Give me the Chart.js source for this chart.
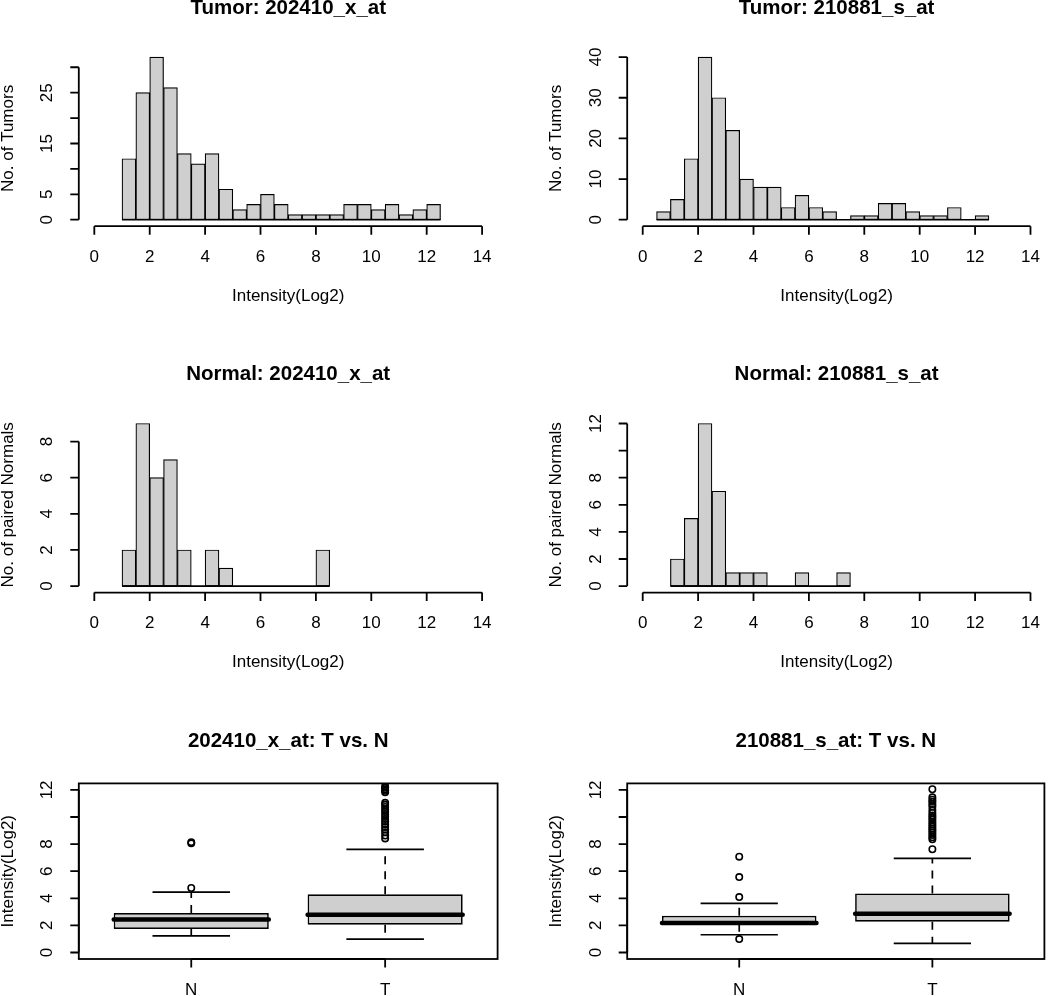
<!DOCTYPE html>
<html>
<head>
<meta charset="utf-8">
<title>202410_x_at / 210881_s_at: Tumor vs. Normal</title>
<script src="https://cdn.jsdelivr.net/npm/chart.js@4.4.1/dist/chart.umd.min.js"></script>
<style>
  html, body { margin: 0; padding: 0; background: #fff; }
  #page { position: relative; width: 1050px; height: 996px; overflow: hidden; }
  #page canvas { position: absolute; }
</style>
</head>
<body>
<div id="page"></div>
<script>
// ---- data ----
const BIN_WIDTH = 0.5;

const tumor202410Bins = [1, 1.5, 2, 2.5, 3, 3.5, 4, 4.5, 5, 5.5, 6, 6.5, 7, 7.5, 8, 8.5, 9, 9.5, 10, 10.5, 11, 11.5, 12];
const tumor202410Counts = [12, 25, 32, 26, 13, 11, 13, 6, 2, 3, 5, 3, 1, 1, 1, 1, 3, 3, 2, 3, 1, 2, 3];

const tumor210881Bins = [0.5, 1, 1.5, 2, 2.5, 3, 3.5, 4, 4.5, 5, 5.5, 6, 6.5, 7, 7.5, 8, 8.5, 9, 9.5, 10, 10.5, 11, 11.5, 12];
const tumor210881Counts = [2, 5, 15, 40, 30, 22, 10, 8, 8, 3, 6, 3, 2, 0, 1, 1, 4, 4, 2, 1, 1, 3, 0, 1];

const normal202410Bins = [1, 1.5, 2, 2.5, 3, 3.5, 4, 4.5, 5, 5.5, 6, 6.5, 7, 7.5, 8];
const normal202410Counts = [2, 9, 6, 7, 2, 0, 2, 1, 0, 0, 0, 0, 0, 0, 2];

const normal210881Bins = [1, 1.5, 2, 2.5, 3, 3.5, 4, 4.5, 5, 5.5, 6, 6.5, 7];
const normal210881Counts = [2, 5, 12, 7, 1, 1, 1, 0, 0, 1, 0, 0, 1];

const histXTicks = [0, 2, 4, 6, 8, 10, 12, 14];
const histXLabels = ['0', '2', '4', '6', '8', '10', '12', '14'];

const tumor202410YTicks = [0, 5, 10, 15, 20, 25, 30];
const tumor202410YLabels = ['0', '5', '', '15', '', '25', ''];
const tumor210881YTicks = [0, 10, 20, 30, 40];
const tumor210881YLabels = ['0', '10', '20', '30', '40'];
const normal202410YTicks = [0, 2, 4, 6, 8];
const normal202410YLabels = ['0', '2', '4', '6', '8'];
const normal210881YTicks = [0, 2, 4, 6, 8, 10, 12];
const normal210881YLabels = ['0', '2', '4', '6', '8', '', '12'];

// box plots: groups N, T
const boxGroups = ['N', 'T'];
const boxYTicks = [0, 2, 4, 6, 8, 10, 12];
const boxYLabels = ['0', '2', '4', '6', '8', '', '12'];

const box202410Low = [1.23, 0.99];
const box202410Q1 = [1.73, 2.05];
const box202410Median = [2.44, 2.79];
const box202410Q3 = [2.91, 4.29];
const box202410High = [4.46, 7.61];
const box202410OutN = [4.76, 8.06, 8.14];
const box202410OutT = [8.42, 8.63, 8.87, 9.08, 9.26, 9.47, 9.66, 9.85, 10.02, 10.21, 10.38, 10.55,
  10.74, 10.9, 11.05, 11.82, 11.93, 12.04, 12.15, 12.27];

const box210881Low = [1.31, 0.67];
const box210881Q1 = [2.12, 2.27];
const box210881Median = [2.17, 2.86];
const box210881Q3 = [2.71, 4.36];
const box210881High = [3.62, 6.95];
const box210881OutN = [0.99, 4.09, 5.57, 7.07];
const box210881OutT = [7.62, 8.35, 8.5, 8.68, 8.84, 9.0, 9.14, 9.3, 9.45, 9.62, 9.8, 9.96, 10.12,
  10.3, 10.52, 10.78, 10.95, 11.12, 11.28, 11.45, 12.05];

// ---- styling / layout ----
const INK = '#000';
const GREY = '#cfcfcf';
const FONT = '"Liberation Sans", Arial, Helvetica, sans-serif';
const LABEL_FONT = '17px ' + FONT;
const TITLE_FONT = 'bold 20.5px ' + FONT;
const TICK_LEN = 8.5;
const AXIS_LW = 1.8;

const COLS = [
  { left: 0, plotL: 78.8, plotR: 497.6 },
  { left: 525, plotL: 627.2, plotR: 1046 }
];
const ROWS = [
  { top: 0, h: 320, plotT: 50.6, plotB: 226.2 },
  { top: 320, h: 360, plotT: 417.0, plotB: 592.6 },
  { top: 680, h: 316, plotT: 783.4, plotB: 959.0 }
];

// R-like axes: lines span the tick range, ticks point outward
const rStyleAxes = {
  id: 'rStyleAxes',
  afterDraw(chart, _args, o) {
    const { ctx, chartArea: a } = chart;
    const xs = chart.scales.x, ys = chart.scales.y;
    ctx.save();
    ctx.strokeStyle = INK;
    ctx.fillStyle = INK;
    ctx.lineWidth = AXIS_LW;
    if (o.frame) ctx.strokeRect(a.left, a.top, a.right - a.left, a.bottom - a.top);

    ctx.beginPath();
    const xFirst = xs.getPixelForValue(o.xTicks[0]);
    const xLast = xs.getPixelForValue(o.xTicks[o.xTicks.length - 1]);
    ctx.moveTo(xFirst, a.bottom);
    ctx.lineTo(xLast, a.bottom);
    o.xTicks.forEach(v => {
      const p = xs.getPixelForValue(v);
      ctx.moveTo(p, a.bottom);
      ctx.lineTo(p, a.bottom + TICK_LEN);
    });
    const yFirst = ys.getPixelForValue(o.yTicks[0]);
    const yLast = ys.getPixelForValue(o.yTicks[o.yTicks.length - 1]);
    ctx.moveTo(a.left, yFirst);
    ctx.lineTo(a.left, yLast);
    o.yTicks.forEach(v => {
      const p = ys.getPixelForValue(v);
      ctx.moveTo(a.left, p);
      ctx.lineTo(a.left - TICK_LEN, p);
    });
    ctx.stroke();

    ctx.font = LABEL_FONT;
    ctx.textAlign = 'center';
    ctx.textBaseline = 'middle';
    o.xTicks.forEach((v, i) => {
      ctx.fillText(o.xLabels[i], xs.getPixelForValue(v), a.bottom + 31);
    });
    o.yTicks.forEach((v, i) => {
      if (!o.yLabels[i]) return;
      ctx.save();
      ctx.translate(a.left - 31, ys.getPixelForValue(v));
      ctx.rotate(-Math.PI / 2);
      ctx.fillText(o.yLabels[i], 0, 0);
      ctx.restore();
    });
    if (o.xTitle) ctx.fillText(o.xTitle, (a.left + a.right) / 2, a.bottom + 70);
    if (o.yTitle) {
      ctx.save();
      ctx.translate(a.left - 70.5, (a.top + a.bottom) / 2);
      ctx.rotate(-Math.PI / 2);
      ctx.fillText(o.yTitle, 0, 0);
      ctx.restore();
    }
    ctx.font = TITLE_FONT;
    ctx.fillText(o.title, (a.left + a.right) / 2, a.top - 42.5);
    ctx.restore();
  }
};

function makeCanvas(col, row) {
  const c = COLS[col], r = ROWS[row];
  const cv = document.createElement('canvas');
  cv.width = 525;
  cv.height = r.h;
  cv.style.left = c.left + 'px';
  cv.style.top = r.top + 'px';
  cv.style.width = '525px';
  cv.style.height = r.h + 'px';
  document.getElementById('page').appendChild(cv);
  const padding = {
    left: c.plotL - c.left,
    right: c.left + 525 - c.plotR,
    top: r.plotT - r.top,
    bottom: r.top + r.h - r.plotB
  };
  return { cv, padding };
}

// R extends axis ranges by 4% on each side
function extend(lo, hi) {
  const d = (hi - lo) * 0.04;
  return [lo - d, hi + d];
}

function drawChart(col, row, datasets, xlim, ylim, xTicks, axes) {
  const { cv, padding } = makeCanvas(col, row);
  const [xmin, xmax] = extend(xlim[0], xlim[1]);
  const [ymin, ymax] = extend(ylim[0], ylim[1]);
  return new Chart(cv, {
    type: 'bar',
    data: { datasets },
    options: {
      responsive: false,
      animation: false,
      devicePixelRatio: 1,
      layout: { padding },
      events: [],
      scales: {
        x: {
          type: 'linear', display: false, offset: false, bounds: 'data', min: xmin, max: xmax,
          afterBuildTicks: s => { s.ticks = xTicks.map(v => ({ value: v })); }
        },
        y: { type: 'linear', display: false, bounds: 'data', beginAtZero: false, min: ymin, max: ymax }
      },
      plugins: {
        legend: { display: false },
        tooltip: { enabled: false },
        title: { display: false },
        rStyleAxes: axes
      }
    },
    plugins: [rStyleAxes]
  });
}

function histogram(col, row, bins, counts, yTicks, yLabels, title, yTitle) {
  const last = bins[bins.length - 1] + BIN_WIDTH;
  const datasets = [
    {
      type: 'line',
      data: [{ x: bins[0], y: 0 }, { x: last, y: 0 }],
      borderColor: INK, borderWidth: 1.6, pointRadius: 0, order: 0
    },
    {
      type: 'bar',
      data: bins.map((b, i) => ({ x: b + BIN_WIDTH / 2, y: counts[i] })),
      backgroundColor: GREY, borderColor: INK, borderWidth: 1.2, borderSkipped: false,
      barPercentage: 1, categoryPercentage: 1, order: 1
    }
  ];
  drawChart(col, row, datasets, [0, 14], [0, Math.max(...counts)], histXTicks, {
    title, yTitle, xTitle: 'Intensity(Log2)',
    xTicks: histXTicks, xLabels: histXLabels, yTicks, yLabels, frame: false
  });
}

function boxplot(col, row, lo, q1, med, q3, hi, outN, outT, title) {
  const xs = boxGroups.map((g, i) => i + 1);
  const whiskers = [], caps = [], medians = [];
  xs.forEach((x, i) => {
    whiskers.push({ x, y: q3[i] }, { x, y: hi[i] }, { x, y: null },
                  { x, y: q1[i] }, { x, y: lo[i] }, { x, y: null });
    caps.push({ x: x - 0.2, y: hi[i] }, { x: x + 0.2, y: hi[i] }, { x: x + 0.2, y: null },
              { x: x - 0.2, y: lo[i] }, { x: x + 0.2, y: lo[i] }, { x: x + 0.2, y: null });
    medians.push({ x: x - 0.4, y: med[i] }, { x: x + 0.4, y: med[i] }, { x: x + 0.4, y: null });
  });
  const outliers = outN.map(v => ({ x: 1, y: v })).concat(outT.map(v => ({ x: 2, y: v })));
  const datasets = [
    { type: 'line', data: medians, borderColor: INK, borderWidth: 4.5, borderCapStyle: 'round',
      pointRadius: 0, spanGaps: false, order: 0 },
    { type: 'line', data: outliers, showLine: false, pointRadius: 3.2, pointBorderWidth: 1.6,
      pointBorderColor: INK, pointBackgroundColor: 'rgba(0,0,0,0)', order: 1 },
    { type: 'line', data: caps, borderColor: INK, borderWidth: 1.7, pointRadius: 0, spanGaps: false, order: 2 },
    { type: 'line', data: whiskers, borderColor: INK, borderWidth: 1.7, borderDash: [8, 7],
      pointRadius: 0, spanGaps: false, order: 3 },
    { type: 'bar', data: xs.map((x, i) => ({ x, y: [q1[i], q3[i]] })),
      backgroundColor: GREY, borderColor: INK, borderWidth: 1.7, borderSkipped: false,
      barPercentage: 0.8, categoryPercentage: 1, grouped: false, order: 4 }
  ];
  drawChart(col, row, datasets, [0.5, 2.5], [0, 12], xs, {
    title, yTitle: 'Intensity(Log2)', xTitle: '',
    xTicks: xs, xLabels: boxGroups, yTicks: boxYTicks, yLabels: boxYLabels, frame: true
  });
}

histogram(0, 0, tumor202410Bins, tumor202410Counts, tumor202410YTicks, tumor202410YLabels,
  'Tumor: 202410_x_at', 'No. of Tumors');
histogram(1, 0, tumor210881Bins, tumor210881Counts, tumor210881YTicks, tumor210881YLabels,
  'Tumor: 210881_s_at', 'No. of Tumors');
histogram(0, 1, normal202410Bins, normal202410Counts, normal202410YTicks, normal202410YLabels,
  'Normal: 202410_x_at', 'No. of paired Normals');
histogram(1, 1, normal210881Bins, normal210881Counts, normal210881YTicks, normal210881YLabels,
  'Normal: 210881_s_at', 'No. of paired Normals');
boxplot(0, 2, box202410Low, box202410Q1, box202410Median, box202410Q3, box202410High,
  box202410OutN, box202410OutT, '202410_x_at: T vs. N');
boxplot(1, 2, box210881Low, box210881Q1, box210881Median, box210881Q3, box210881High,
  box210881OutN, box210881OutT, '210881_s_at: T vs. N');
</script>
</body>
</html>
